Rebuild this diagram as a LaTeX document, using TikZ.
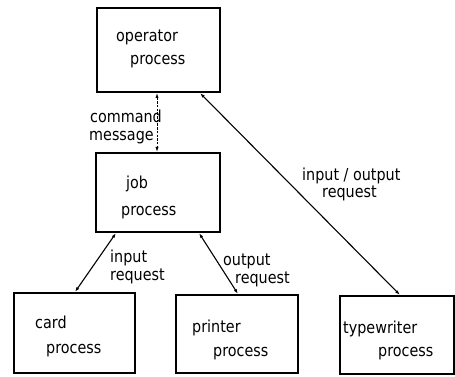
\documentclass[tikz,border=0pt]{standalone}
\usepackage{fontspec}
\setmainfont[FakeStretch=0.87]{DejaVu Sans}
\usetikzlibrary{arrows.meta,calc}
\begin{document}
\begin{tikzpicture}[x=1pt,y=-1pt,
  box/.style={draw, line width=2pt, inner sep=0pt},
  lbl/.style={anchor=base west, inner sep=0pt, font=\fontsize{16.5}{18}\selectfont},
  link/.style={line width=1.1pt, {Latex[length=5pt,width=3.2pt]}-{Latex[length=5pt,width=3.2pt]}},
]
\useasboundingbox (0,0) rectangle (455,377);

% process boxes
\node[box, minimum width=123pt, minimum height=84pt] (op) at (158.5,50) {};
\node[box, minimum width=124pt, minimum height=79pt] (jb) at (158,192.5) {};
\node[box, minimum width=121pt, minimum height=80pt] (cd) at (74.5,333) {};
\node[box, minimum width=122pt, minimum height=78pt] (pr) at (237,334) {};
\node[box, minimum width=114pt, minimum height=78pt] (tw) at (397,335) {};

% box texts
\node[lbl] (opa) at (116,42) {operator};
\node[lbl] (opb) at (130,65) {process};
\node[lbl] (jba) at (126,188) {job};
\node[lbl] (jbb) at (121,215) {process};
\node[lbl] (cda) at (35,328) {card};
\node[lbl] (cdb) at (46,353) {process};
\node[lbl] (pra) at (192,332) {printer};
\node[lbl] (prb) at (213,356) {process};
\node[lbl] (twa) at (343,333) {typewriter};
\node[lbl] (twb) at (378,356) {process};

% connector labels
\node[lbl] (cma) at (90,123) {command};
\node[lbl] (cmb) at (89,141) {message};
\node[lbl] (ioa) at (302,180) {input / output};
\node[lbl] (iob) at (322,197) {request};
\node[lbl] (ina) at (110,262) {input};
\node[lbl] (inb) at (110,280) {request};
\node[lbl] (oua) at (223,265) {output};
\node[lbl] (oub) at (235,283) {request};

% connectors
\draw[link, line width=0.8pt, dash pattern=on 2.5pt off 1.2pt]
  ($(op.south)+(-1.5,0)$) -- ($(jb.north)+(-1,0)$);
\draw[link] ($(op.south)+(41.5,0)$) -- ($(tw.north)+(3,0)$);
\draw[link] ($(jb.south)+(-42,0)$) -- ($(cd.north)+(0.5,0)$);
\draw[link] ($(jb.south)+(41,0)$) -- ($(pr.north)+(1,0)$);
\end{tikzpicture}
\end{document}
